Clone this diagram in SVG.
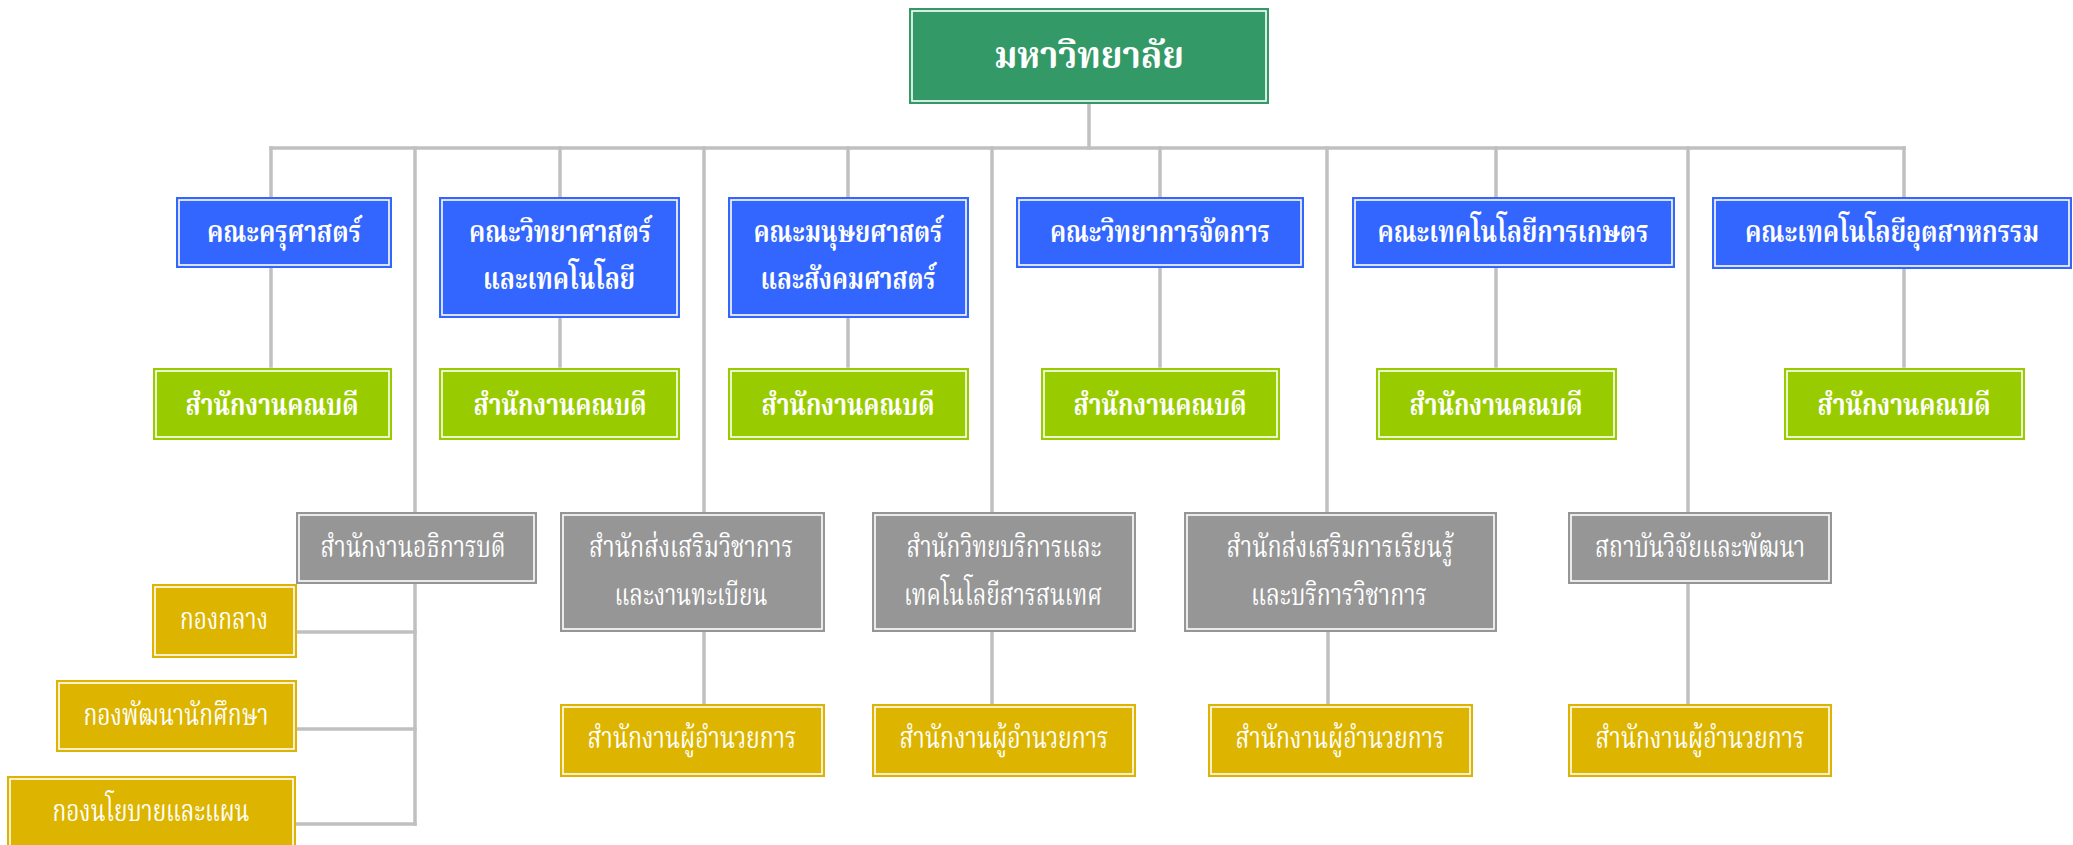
<svg xmlns="http://www.w3.org/2000/svg" width="2073" height="845" viewBox="0 0 2073 845">
<style>
.bg{fill:#ffffff}
.in{fill:none;stroke:#ffffff;stroke-width:1.6}
.top{fill:#339966}
.fac{fill:#3366FF}
.dean{fill:#99CC00}
.off{fill:#969696}
.dir{fill:#DDB500}
.conn line{stroke:#C0C0C0;stroke-width:3.5;stroke-linecap:square}
text{fill:#ffffff;text-anchor:middle}
.b{font-family:"Noto Serif Thai","Noto Sans Thai","Noto Sans","DejaVu Sans",serif;font-weight:bold;font-size:31px}
.r{font-family:"Noto Serif Thai","Noto Sans Thai","Noto Sans","DejaVu Serif",serif;font-weight:normal;font-size:31px}
.t{font-family:"Noto Serif Thai","Noto Sans Thai","Noto Sans","DejaVu Sans",serif;font-weight:bold;font-size:38px}
</style>
<rect class="bg" x="0" y="0" width="2073" height="845"/>
<g id="connectors" class="conn">
<line x1="1089" y1="104" x2="1089" y2="148"/>
<line x1="271" y1="148" x2="1904" y2="148"/>
<line x1="271" y1="148" x2="271" y2="197"/>
<line x1="560" y1="148" x2="560" y2="197"/>
<line x1="848" y1="148" x2="848" y2="197"/>
<line x1="1160" y1="148" x2="1160" y2="197"/>
<line x1="1496" y1="148" x2="1496" y2="197"/>
<line x1="1904" y1="148" x2="1904" y2="197"/>
<line x1="271" y1="268" x2="271" y2="366"/>
<line x1="560" y1="318" x2="560" y2="366"/>
<line x1="848" y1="318" x2="848" y2="366"/>
<line x1="1160" y1="268" x2="1160" y2="366"/>
<line x1="1496" y1="268" x2="1496" y2="366"/>
<line x1="1904" y1="269" x2="1904" y2="366"/>
<line x1="415" y1="148" x2="415" y2="512"/>
<line x1="704" y1="148" x2="704" y2="512"/>
<line x1="992" y1="148" x2="992" y2="512"/>
<line x1="1327" y1="148" x2="1327" y2="512"/>
<line x1="1688" y1="148" x2="1688" y2="512"/>
<line x1="704" y1="632" x2="704" y2="704"/>
<line x1="992" y1="632" x2="992" y2="704"/>
<line x1="1328" y1="632" x2="1328" y2="704"/>
<line x1="1688" y1="584" x2="1688" y2="704"/>
<line x1="415" y1="584" x2="415" y2="824"/>
<line x1="297" y1="632" x2="415" y2="632"/>
<line x1="297" y1="729" x2="415" y2="729"/>
<line x1="297" y1="824" x2="415" y2="824"/>
</g>
<g id="university">
<rect class="top" x="909" y="8" width="360" height="96"/>
<rect class="in" x="912" y="11" width="354" height="90"/>
<text class="t" x="1089" y="68" textLength="190" lengthAdjust="spacingAndGlyphs">มหาวิทยาลัย</text>
</g>
<g id="fac-edu">
<rect class="fac" x="176" y="197" width="216" height="71"/>
<rect class="in" x="179" y="200" width="210" height="65"/>
<text class="b" x="284" y="242" textLength="154" lengthAdjust="spacingAndGlyphs">คณะครุศาสตร์</text>
</g>
<g id="fac-sci">
<rect class="fac" x="439" y="197" width="241" height="121"/>
<rect class="in" x="442" y="200" width="235" height="115"/>
<text class="b" x="560" y="242" textLength="182" lengthAdjust="spacingAndGlyphs">คณะวิทยาศาสตร์</text>
<text class="b" x="559" y="289" textLength="152" lengthAdjust="spacingAndGlyphs">และเทคโนโลยี</text>
</g>
<g id="fac-hum">
<rect class="fac" x="728" y="197" width="241" height="121"/>
<rect class="in" x="731" y="200" width="235" height="115"/>
<text class="b" x="848" y="242" textLength="189" lengthAdjust="spacingAndGlyphs">คณะมนุษยศาสตร์</text>
<text class="b" x="848" y="289" textLength="175" lengthAdjust="spacingAndGlyphs">และสังคมศาสตร์</text>
</g>
<g id="fac-mgt">
<rect class="fac" x="1016" y="197" width="288" height="71"/>
<rect class="in" x="1019" y="200" width="282" height="65"/>
<text class="b" x="1160" y="242" textLength="220" lengthAdjust="spacingAndGlyphs">คณะวิทยาการจัดการ</text>
</g>
<g id="fac-agr">
<rect class="fac" x="1352" y="197" width="323" height="71"/>
<rect class="in" x="1355" y="200" width="317" height="65"/>
<text class="b" x="1513" y="242" textLength="271" lengthAdjust="spacingAndGlyphs">คณะเทคโนโลยีการเกษตร</text>
</g>
<g id="fac-ind">
<rect class="fac" x="1712" y="197" width="360" height="72"/>
<rect class="in" x="1715" y="200" width="354" height="66"/>
<text class="b" x="1892" y="242" textLength="294" lengthAdjust="spacingAndGlyphs">คณะเทคโนโลยีอุตสาหกรรม</text>
</g>
<g id="dean-edu">
<rect class="dean" x="153" y="368" width="239" height="72"/>
<rect class="in" x="156" y="371" width="233" height="66"/>
<text class="b" x="272" y="415" textLength="173" lengthAdjust="spacingAndGlyphs">สำนักงานคณบดี</text>
</g>
<g id="dean-sci">
<rect class="dean" x="439" y="368" width="241" height="72"/>
<rect class="in" x="442" y="371" width="235" height="66"/>
<text class="b" x="560" y="415" textLength="173" lengthAdjust="spacingAndGlyphs">สำนักงานคณบดี</text>
</g>
<g id="dean-hum">
<rect class="dean" x="728" y="368" width="241" height="72"/>
<rect class="in" x="731" y="371" width="235" height="66"/>
<text class="b" x="848" y="415" textLength="173" lengthAdjust="spacingAndGlyphs">สำนักงานคณบดี</text>
</g>
<g id="dean-mgt">
<rect class="dean" x="1041" y="368" width="239" height="72"/>
<rect class="in" x="1044" y="371" width="233" height="66"/>
<text class="b" x="1160" y="415" textLength="173" lengthAdjust="spacingAndGlyphs">สำนักงานคณบดี</text>
</g>
<g id="dean-agr">
<rect class="dean" x="1376" y="368" width="241" height="72"/>
<rect class="in" x="1379" y="371" width="235" height="66"/>
<text class="b" x="1496" y="415" textLength="173" lengthAdjust="spacingAndGlyphs">สำนักงานคณบดี</text>
</g>
<g id="dean-ind">
<rect class="dean" x="1784" y="368" width="241" height="72"/>
<rect class="in" x="1787" y="371" width="235" height="66"/>
<text class="b" x="1904" y="415" textLength="173" lengthAdjust="spacingAndGlyphs">สำนักงานคณบดี</text>
</g>
<g id="office-president">
<rect class="off" x="296" y="512" width="241" height="72"/>
<rect class="in" x="299" y="515" width="235" height="66"/>
<text class="r" x="413" y="557" textLength="185" lengthAdjust="spacingAndGlyphs">สำนักงานอธิการบดี</text>
</g>
<g id="office-academic">
<rect class="off" x="560" y="512" width="265" height="120"/>
<rect class="in" x="563" y="515" width="259" height="114"/>
<text class="r" x="691" y="557" textLength="204" lengthAdjust="spacingAndGlyphs">สำนักส่งเสริมวิชาการ</text>
<text class="r" x="691" y="605" textLength="153" lengthAdjust="spacingAndGlyphs">และงานทะเบียน</text>
</g>
<g id="office-library">
<rect class="off" x="872" y="512" width="264" height="120"/>
<rect class="in" x="875" y="515" width="258" height="114"/>
<text class="r" x="1004" y="557" textLength="195" lengthAdjust="spacingAndGlyphs">สำนักวิทยบริการและ</text>
<text class="r" x="1003" y="605" textLength="198" lengthAdjust="spacingAndGlyphs">เทคโนโลยีสารสนเทศ</text>
</g>
<g id="office-learning">
<rect class="off" x="1184" y="512" width="313" height="120"/>
<rect class="in" x="1187" y="515" width="307" height="114"/>
<text class="r" x="1340" y="557" textLength="227" lengthAdjust="spacingAndGlyphs">สำนักส่งเสริมการเรียนรู้</text>
<text class="r" x="1339" y="605" textLength="176" lengthAdjust="spacingAndGlyphs">และบริการวิชาการ</text>
</g>
<g id="office-research">
<rect class="off" x="1568" y="512" width="264" height="72"/>
<rect class="in" x="1571" y="515" width="258" height="66"/>
<text class="r" x="1700" y="557" textLength="210" lengthAdjust="spacingAndGlyphs">สถาบันวิจัยและพัฒนา</text>
</g>
<g id="div-central">
<rect class="dir" x="152" y="584" width="145" height="74"/>
<rect class="in" x="155" y="587" width="139" height="68"/>
<text class="r" x="224" y="629" textLength="88" lengthAdjust="spacingAndGlyphs">กองกลาง</text>
</g>
<g id="div-student">
<rect class="dir" x="56" y="680" width="241" height="72"/>
<rect class="in" x="59" y="683" width="235" height="66"/>
<text class="r" x="176" y="725" textLength="185" lengthAdjust="spacingAndGlyphs">กองพัฒนานักศึกษา</text>
</g>
<g id="div-policy">
<rect class="dir" x="7" y="776" width="289" height="74"/>
<rect class="in" x="10" y="779" width="283" height="68"/>
<text class="r" x="151" y="821" textLength="197" lengthAdjust="spacingAndGlyphs">กองนโยบายและแผน</text>
</g>
<g id="dir-academic">
<rect class="dir" x="560" y="704" width="265" height="73"/>
<rect class="in" x="563" y="707" width="259" height="67"/>
<text class="r" x="692" y="748" textLength="209" lengthAdjust="spacingAndGlyphs">สำนักงานผู้อำนวยการ</text>
</g>
<g id="dir-library">
<rect class="dir" x="872" y="704" width="264" height="73"/>
<rect class="in" x="875" y="707" width="258" height="67"/>
<text class="r" x="1004" y="748" textLength="209" lengthAdjust="spacingAndGlyphs">สำนักงานผู้อำนวยการ</text>
</g>
<g id="dir-learning">
<rect class="dir" x="1208" y="704" width="265" height="73"/>
<rect class="in" x="1211" y="707" width="259" height="67"/>
<text class="r" x="1340" y="748" textLength="209" lengthAdjust="spacingAndGlyphs">สำนักงานผู้อำนวยการ</text>
</g>
<g id="dir-research">
<rect class="dir" x="1568" y="704" width="264" height="73"/>
<rect class="in" x="1571" y="707" width="258" height="67"/>
<text class="r" x="1700" y="748" textLength="209" lengthAdjust="spacingAndGlyphs">สำนักงานผู้อำนวยการ</text>
</g>
</svg>
